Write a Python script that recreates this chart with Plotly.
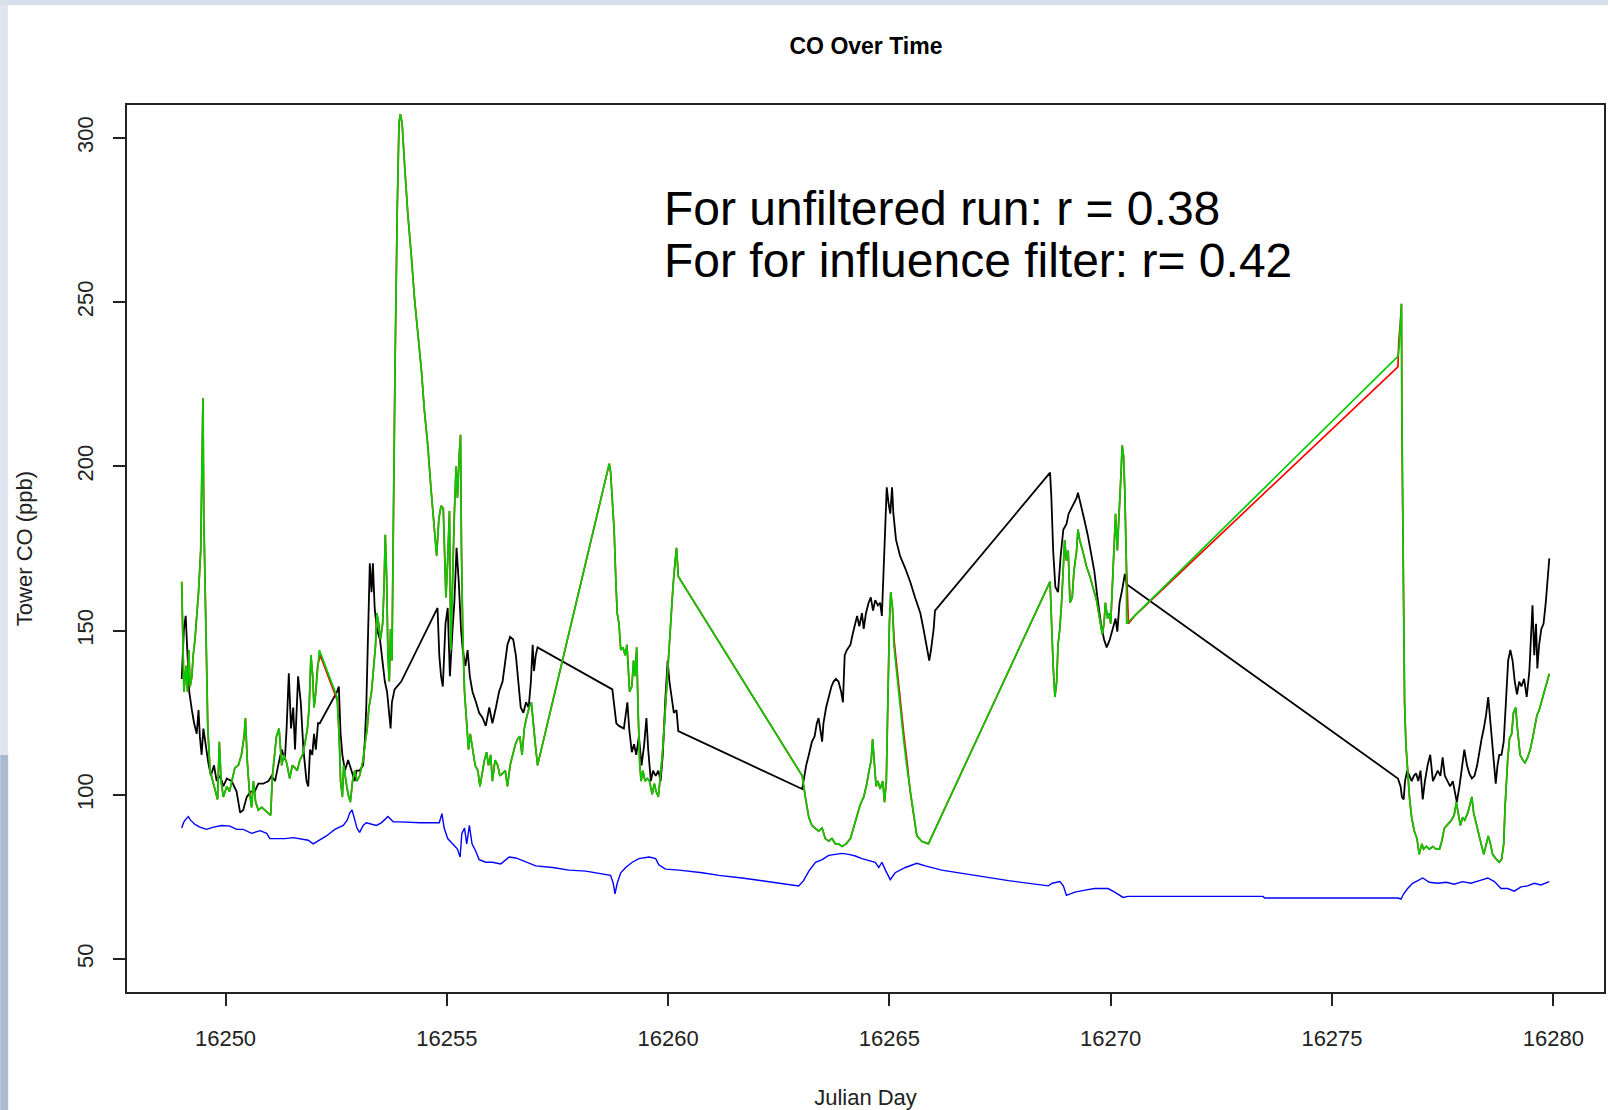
import plotly.graph_objects as go

# ---------------- data ----------------
black_day = [16249.01,16249.03,16249.06,16249.10,16249.12,16249.15,16249.18,16249.24,16249.29,16249.35,16249.39,16249.42,16249.46,16249.50,16249.55,16249.61,16249.67,16249.74,16249.80,16249.88,16249.95,16250.03,16250.14,16250.25,16250.33,16250.40,16250.48,16250.57,16250.66,16250.74,16250.85,16250.97,16251.04,16251.12,16251.19,16251.27,16251.34,16251.38,16251.43,16251.48,16251.53,16251.57,16251.64,16251.70,16251.76,16251.83,16251.87,16251.91,16251.96,16252.00,16252.04,16252.09,16252.13,
             16252.52,16252.56,16252.60,16252.64,16252.70,16252.77,16252.85,16252.92,16252.96,16253.03,16253.11,16253.15,16253.18,16253.22,16253.26,16253.30,16253.33,16253.37,16253.42,16253.49,16253.55,16253.60,16253.65,16253.70,16253.73,16253.76,16253.82,16253.97,
             16254.79,16254.83,16254.87,16254.91,16254.97,16255.02,16255.07,16255.13,16255.17,16255.22,16255.27,16255.32,16255.36,16255.42,16255.47,16255.52,16255.58,16255.66,16255.73,16255.81,16255.88,16255.96,16256.03,16256.11,16256.18,16256.26,16256.32,16256.37,16256.43,16256.50,16256.56,16256.62,16256.67,16256.73,16256.79,16256.85,16256.90,16256.94,16256.97,16257.01,16257.05,
             16258.74,16258.78,16258.83,16258.89,16259.00,16259.08,16259.12,16259.18,16259.23,16259.28,16259.34,16259.40,16259.46,16259.51,16259.55,16259.61,16259.66,16259.72,16259.78,16259.83,16259.88,16259.94,16259.99,16260.03,16260.08,16260.13,16260.19,16260.23,
             16263.03,16263.06,16263.12,16263.18,16263.25,16263.31,16263.36,16263.40,16263.44,16263.48,16263.51,16263.57,16263.63,16263.69,16263.74,16263.79,16263.85,16263.91,16263.95,16263.99,16264.04,16264.12,16264.17,16264.23,16264.27,16264.32,16264.38,16264.42,16264.47,16264.53,16264.58,16264.63,16264.68,16264.74,16264.79,16264.83,16264.87,16264.91,16264.94,16264.98,16265.02,16265.06,16265.09,16265.15,16265.24,16265.36,16265.47,16265.58,16265.70,16265.77,16265.85,16265.90,16265.94,16266.00,16266.03,
             16268.63,16268.66,16268.70,16268.75,16268.81,16268.87,16268.93,16269.00,16269.05,16269.11,16269.17,16269.23,16269.26,16269.32,16269.40,16269.48,16269.55,16269.63,16269.70,16269.78,16269.85,16269.91,16269.98,16270.05,16270.11,16270.15,16270.20,16270.26,16270.32,16270.36,
             16276.49,16276.55,16276.58,16276.62,16276.65,16276.70,16276.75,16276.80,16276.85,16276.90,16276.95,16277.00,16277.05,16277.10,16277.16,16277.22,16277.28,16277.33,16277.39,16277.45,16277.50,16277.55,16277.61,16277.67,16277.73,16277.78,16277.82,16277.88,16277.93,16277.99,16278.05,16278.10,16278.16,16278.22,16278.28,16278.33,16278.38,16278.43,16278.48,16278.53,16278.58,16278.63,16278.67,16278.70,16278.74,16278.78,16278.83,16278.88,16278.93,16278.98,16279.03,16279.08,16279.13,16279.18,16279.23,16279.28,16279.34,16279.40,16279.46,16279.49,16279.53,16279.57,16279.61,16279.64,16279.68,16279.73,16279.78,16279.83,16279.87,16279.91]
black_co = [135.3,140.9,150.5,154.5,148.9,140.9,131.4,125.8,121.8,118.6,125.8,117.8,112.2,120.2,115.4,109.8,105.8,109.0,104.2,105.8,102.6,105.0,104.2,101.0,94.6,95.4,99.4,101.0,101.0,103.4,103.4,104.2,105.8,104.2,109.0,113.8,110.6,120.2,137.0,120.2,126.6,113.8,136.1,128.2,113.8,104.2,102.6,113.8,112.2,118.6,113.8,121.8,121.8,
            131.4,133.0,118.6,112.2,107.4,110.6,107.4,104.2,107.4,107.4,109.0,117.0,126.6,148.9,170.5,161.7,170.5,156.9,150.5,147.3,140.9,134.5,131.4,125.0,120.2,128.2,132.1,134.5,
            156.9,142.5,136.1,133.0,152.1,156.9,136.1,150.5,158.5,175.2,164.9,150.5,144.1,139.3,144.1,136.1,131.4,128.2,125.0,123.4,121.0,126.6,121.8,126.6,131.4,134.5,140.9,145.7,148.1,147.3,142.5,134.5,126.6,125.0,128.2,126.6,134.5,145.7,137.7,142.5,144.9,
            132.1,128.2,121.8,121.0,120.2,128.2,120.2,113.0,115.4,112.2,117.8,109.0,115.4,123.4,113.8,104.2,107.4,105.8,107.4,104.2,112.2,129.8,140.9,134.5,129.8,125.0,125.8,119.4,
            101.8,104.2,109.0,112.2,116.2,117.8,121.8,123.4,120.2,116.2,121.8,126.6,129.8,133.0,134.5,135.3,134.5,131.4,128.2,142.5,144.1,145.7,148.9,152.1,154.5,151.3,155.3,150.5,155.3,158.5,160.1,156.1,159.3,157.7,158.5,154.5,168.1,184.0,193.6,188.8,185.6,193.6,185.6,177.6,172.8,168.9,164.9,160.1,155.3,150.5,144.1,140.9,144.1,150.5,156.1,
            198.1,190.4,174.4,163.3,161.7,172.8,180.8,182.4,185.6,187.2,188.8,190.4,192.0,188.8,184.0,179.2,174.4,168.1,160.1,152.1,147.3,144.9,147.3,150.5,153.7,149.7,158.5,162.5,167.3,164.1,
            105.0,102.6,99.4,98.6,104.2,107.4,105.8,104.2,105.8,106.6,104.2,107.4,98.6,104.2,109.0,112.2,104.2,105.8,107.4,105.8,111.4,105.8,104.2,102.6,104.2,101.0,97.8,102.6,107.4,113.8,109.0,106.6,105.0,105.8,109.0,113.8,117.0,120.2,124.2,129.8,121.8,115.4,109.0,103.4,109.0,112.2,112.2,116.2,128.2,140.9,144.1,140.9,134.5,130.6,134.5,133.0,135.3,129.8,137.7,147.3,157.7,142.5,152.1,138.5,145.7,150.5,152.1,158.5,166.5,172.0]

green_day = [16249.01,16249.03,16249.06,16249.11,16249.14,16249.17,16249.20,16249.24,16249.27,16249.31,16249.35,16249.39,16249.44,16249.46,16249.49,16249.51,16249.54,16249.57,16249.60,16249.65,16249.71,16249.76,16249.82,16249.86,16249.90,16249.95,16250.03,16250.09,16250.16,16250.21,16250.29,16250.36,16250.42,16250.45,16250.49,16250.54,16250.59,16250.63,16250.68,16250.74,16250.82,16250.89,16250.97,16251.02,16251.06,16251.10,16251.15,16251.21,16251.27,16251.32,16251.38,16251.45,16251.51,16251.57,16251.62,16251.68,16251.74,16251.79,16251.85,16251.89,16251.93,16251.97,16252.00,16252.04,16252.08,16252.12,
             16252.52,16252.57,16252.60,16252.64,16252.67,16252.72,16252.77,16252.82,16252.87,16252.92,16252.97,16253.03,16253.11,16253.15,16253.20,16253.24,16253.30,16253.35,16253.39,16253.42,16253.46,16253.50,16253.55,16253.58,16253.61,16253.64,16253.67,16253.70,16253.73,16253.76,16253.79,16253.83,16253.88,16253.92,16253.95,16253.99,16254.05,16254.12,16254.20,16254.27,16254.35,16254.43,16254.49,16254.57,16254.64,16254.72,16254.77,16254.82,16254.87,16254.92,16254.95,16254.98,16255.02,16255.06,16255.09,16255.13,16255.17,16255.21,16255.24,16255.28,16255.31,16255.33,16255.36,16255.40,16255.43,16255.49,16255.53,16255.58,16255.64,16255.70,16255.75,16255.79,16255.85,16255.90,16255.94,16255.99,16256.03,16256.09,16256.15,16256.20,16256.26,16256.32,16256.37,16256.43,16256.49,16256.55,16256.60,16256.65,16256.70,16256.75,16256.80,16256.86,16256.91,16256.95,16257.00,16257.05,
             16258.67,16258.70,16258.74,16258.78,16258.82,16258.85,16258.89,16258.93,16258.98,16259.03,16259.07,16259.10,16259.13,16259.18,16259.22,16259.25,16259.29,16259.32,16259.36,16259.39,16259.43,16259.48,16259.53,16259.58,16259.64,16259.69,16259.73,16259.78,16259.82,16259.87,16259.91,16259.96,16260.00,16260.06,16260.11,16260.16,16260.19,16260.23,
             16263.03,16263.10,16263.18,16263.25,16263.33,16263.40,16263.48,16263.55,16263.63,16263.70,16263.78,16263.85,16263.93,16264.02,16264.12,16264.19,16264.27,16264.34,16264.42,16264.49,16264.54,16264.59,16264.62,16264.66,16264.70,16264.74,16264.79,16264.85,16264.89,16264.93,16264.96,16265.00,16265.03,16265.07,16265.10,16265.17,16265.24,16265.32,16265.39,16265.47,16265.54,16265.62,16265.73,16265.88,
             16268.63,16268.66,16268.70,16268.74,16268.78,16268.81,16268.85,16268.89,16268.93,16268.96,16269.00,16269.04,16269.08,16269.13,16269.17,16269.23,16269.26,16269.30,16269.38,16269.45,16269.53,16269.60,16269.68,16269.75,16269.81,16269.85,16269.88,16269.93,16269.96,16270.00,16270.04,16270.08,16270.11,16270.15,16270.19,16270.23,16270.26,16270.29,16270.32,16270.35,16270.36,
             16276.49,16276.52,16276.55,16276.57,16276.58,16276.60,16276.62,16276.64,16276.67,16276.71,16276.75,16276.80,16276.86,16276.92,16276.97,16277.03,16277.07,16277.13,16277.20,16277.28,16277.35,16277.43,16277.48,16277.54,16277.60,16277.65,16277.70,16277.76,16277.81,16277.85,16277.90,16277.95,16278.00,16278.07,16278.13,16278.16,16278.20,16278.25,16278.31,16278.37,16278.43,16278.48,16278.53,16278.58,16278.63,16278.70,16278.78,16278.83,16278.88,16278.91,16278.94,16278.97,16279.01,16279.06,16279.10,16279.15,16279.19,16279.25,16279.31,16279.36,16279.42,16279.48,16279.53,16279.58,16279.63,16279.68,16279.73,16279.79,16279.85,16279.91]
green_co = [164.9,147.3,131.4,139.3,131.4,144.1,133.0,136.1,142.5,147.3,153.7,161.7,174.4,193.6,220.7,184.0,158.5,131.4,120.2,107.4,104.2,101.0,98.6,116.2,104.2,99.4,102.6,101.0,105.8,108.2,109.0,112.2,117.8,123.4,110.6,101.0,96.2,104.2,97.8,95.4,96.2,95.4,94.6,93.8,105.8,112.2,117.8,120.2,109.0,112.2,109.8,105.0,109.0,108.2,107.4,110.6,112.2,115.4,120.2,126.6,142.5,136.1,126.6,131.4,139.3,144.1,
            129.8,117.0,104.2,99.4,109.0,104.2,100.2,97.8,104.2,107.4,104.2,105.8,110.6,115.4,120.2,126.6,131.4,139.3,145.7,155.3,152.1,147.3,152.1,162.5,179.2,166.5,142.5,134.5,150.5,140.9,182.4,230.3,278.2,304.5,307.2,304.5,290.9,276.6,263.8,251.1,239.9,228.7,217.5,206.4,193.6,180.8,172.8,184.0,188.0,187.2,176.0,160.1,171.3,186.4,144.1,166.5,185.6,200.0,190.4,203.2,209.6,176.0,148.9,131.4,125.0,113.8,118.6,113.8,109.0,107.4,102.6,105.8,110.6,113.0,109.0,112.2,104.2,110.6,109.0,105.8,106.6,107.4,102.6,109.0,112.2,115.4,117.0,117.8,112.2,120.2,123.4,126.6,128.2,123.4,115.4,109.0,
            200.8,198.4,190.4,180.8,164.9,155.3,152.1,144.1,144.9,142.5,145.7,136.1,131.4,133.0,140.9,136.1,144.9,126.6,109.0,104.2,107.4,104.2,105.0,104.2,100.2,103.4,101.0,99.4,104.2,112.2,120.2,131.4,142.5,152.1,163.3,171.3,175.2,166.5,
            105.8,99.4,93.1,90.7,89.9,89.0,89.9,86.7,85.9,86.7,85.1,85.1,84.3,85.1,86.7,89.9,93.1,97.0,99.4,103.4,107.4,110.6,117.0,109.0,102.6,104.2,101.8,104.2,97.8,104.2,129.8,152.1,161.7,156.9,145.7,136.1,126.6,117.0,109.0,101.0,94.6,87.5,85.9,85.1,
            164.9,152.1,139.3,129.8,134.5,145.7,150.5,158.5,168.1,177.6,171.3,174.4,158.5,160.1,168.1,174.4,180.8,177.6,173.6,169.7,166.5,163.3,159.3,153.7,148.9,152.1,158.5,153.7,155.3,152.1,163.3,176.0,185.6,174.4,184.0,196.8,206.4,203.2,192.0,172.8,152.1,
            233.5,236.7,244.7,249.5,215.9,184.0,152.1,128.2,115.4,105.8,99.4,93.1,89.0,86.7,81.9,85.1,83.5,84.3,83.5,84.3,83.5,83.5,85.9,89.9,90.7,91.5,92.3,93.8,97.8,94.6,90.7,93.1,92.3,94.6,97.8,99.4,94.6,91.5,88.3,85.1,81.9,85.1,87.5,85.1,81.9,80.6,79.5,80.3,85.1,96.2,104.2,110.6,117.0,118.6,125.0,126.6,120.2,112.2,110.6,109.8,111.4,113.8,117.0,120.2,124.2,125.8,128.2,131.4,134.5,136.9]

red_day = [16249.01,16249.03,16249.06,16249.11,16249.14,16249.17,16249.20,16249.24,16249.27,16249.31,16249.35,16249.39,16249.44,16249.46,16249.49,16249.51,16249.54,16249.57,16249.60,16249.65,16249.71,16249.76,16249.82,16249.86,16249.90,16249.95,16250.03,16250.09,16250.16,16250.21,16250.29,16250.36,16250.42,16250.45,16250.49,16250.54,16250.59,16250.63,16250.68,16250.74,16250.82,16250.89,16250.97,16251.02,16251.06,16251.10,16251.15,16251.21,16251.27,16251.32,16251.38,16251.45,16251.51,16251.57,16251.62,16251.68,16251.74,16251.79,16251.85,16251.89,16251.93,16251.97,16252.00,16252.04,16252.08,16252.14,
           16252.53,16252.57,16252.60,16252.64,16252.67,16252.72,16252.77,16252.82,16252.87,16252.92,16252.97,16253.03,16253.11,16253.15,16253.20,16253.24,16253.30,16253.35,16253.39,16253.42,16253.46,16253.50,16253.55,16253.58,16253.61,16253.64,16253.67,16253.70,16253.73,16253.76,16253.79,16253.83,16253.88,16253.92,16253.95,16253.99,16254.05,16254.12,16254.20,16254.27,16254.35,16254.43,16254.49,16254.57,16254.64,16254.72,16254.77,16254.82,16254.87,16254.92,16254.95,16254.98,16255.02,16255.06,16255.09,16255.13,16255.17,16255.21,16255.24,16255.28,16255.31,16255.33,16255.36,16255.40,16255.43,16255.49,16255.53,16255.58,16255.64,16255.70,16255.75,16255.79,16255.85,16255.90,16255.94,16255.99,16256.03,16256.09,16256.15,16256.20,16256.26,16256.32,16256.37,16256.43,16256.49,16256.55,16256.60,16256.65,16256.70,16256.75,16256.80,16256.86,16256.91,16256.95,16257.00,16257.05,
           16258.67,16258.70,16258.74,16258.78,16258.82,16258.85,16258.89,16258.93,16258.98,16259.03,16259.07,16259.10,16259.13,16259.18,16259.22,16259.25,16259.29,16259.32,16259.36,16259.39,16259.43,16259.48,16259.53,16259.58,16259.64,16259.69,16259.73,16259.78,16259.82,16259.87,16259.91,16259.96,16260.00,16260.06,16260.11,16260.16,16260.19,16260.23,
           16263.03,16263.10,16263.18,16263.25,16263.33,16263.40,16263.48,16263.55,16263.63,16263.70,16263.78,16263.85,16263.93,16264.02,16264.12,16264.19,16264.27,16264.34,16264.42,16264.49,16264.54,16264.59,16264.62,16264.66,16264.70,16264.74,16264.79,16264.85,16264.89,16264.93,16264.96,16265.00,16265.03,16265.07,16265.11,16265.18,16265.25,16265.33,16265.40,16265.47,16265.54,16265.62,16265.73,16265.88,
           16268.63,16268.66,16268.70,16268.74,16268.78,16268.81,16268.85,16268.89,16268.93,16268.96,16269.00,16269.04,16269.08,16269.13,16269.17,16269.23,16269.26,16269.30,16269.38,16269.45,16269.53,16269.60,16269.68,16269.75,16269.81,16269.85,16269.88,16269.93,16269.96,16270.00,16270.04,16270.08,16270.11,16270.15,16270.19,16270.23,16270.26,16270.29,16270.32,16270.35,16270.40,16270.54,
           16276.49,16276.51,16276.55,16276.57,16276.58,16276.60,16276.62,16276.64,16276.67,16276.71,16276.75,16276.80,16276.86,16276.92,16276.97,16277.03,16277.07,16277.13,16277.20,16277.28,16277.35,16277.43,16277.48,16277.54,16277.60,16277.65,16277.70,16277.76,16277.81,16277.85,16277.90,16277.95,16278.00,16278.07,16278.13,16278.16,16278.20,16278.25,16278.31,16278.37,16278.43,16278.48,16278.53,16278.58,16278.63,16278.70,16278.78,16278.83,16278.88,16278.91,16278.94,16278.97,16279.01,16279.06,16279.10,16279.15,16279.19,16279.25,16279.31,16279.36,16279.42,16279.48,16279.53,16279.58,16279.63,16279.68,16279.73,16279.79,16279.85,16279.91]
red_co = [164.9,147.3,131.4,139.3,131.4,144.1,133.0,136.1,142.5,147.3,153.7,161.7,174.4,193.6,220.7,184.0,158.5,131.4,120.2,107.4,104.2,101.0,98.6,116.2,104.2,99.4,102.6,101.0,105.8,108.2,109.0,112.2,117.8,123.4,110.6,101.0,96.2,104.2,97.8,95.4,96.2,95.4,94.6,93.8,105.8,112.2,117.8,120.2,109.0,112.2,109.8,105.0,109.0,108.2,107.4,110.6,112.2,115.4,120.2,126.6,142.5,136.1,126.6,131.4,139.3,142.5,
          128.6,117.0,104.2,99.4,109.0,104.2,100.2,97.8,104.2,107.4,104.2,105.8,110.6,115.4,120.2,126.6,131.4,139.3,145.7,155.3,152.1,147.3,152.1,162.5,179.2,166.5,142.5,134.5,150.5,140.9,182.4,230.3,278.2,304.5,307.2,304.5,290.9,276.6,263.8,251.1,239.9,228.7,217.5,206.4,193.6,180.8,172.8,184.0,188.0,187.2,176.0,160.1,171.3,186.4,144.1,166.5,185.6,200.0,190.4,203.2,209.6,176.0,148.9,131.4,125.0,113.8,118.6,113.8,109.0,107.4,102.6,105.8,110.6,113.0,109.0,112.2,104.2,110.6,109.0,105.8,106.6,107.4,102.6,109.0,112.2,115.4,117.0,117.8,112.2,120.2,123.4,126.6,128.2,123.4,115.4,109.0,
          200.8,198.4,190.4,180.8,164.9,155.3,152.1,144.1,144.9,142.5,145.7,136.1,131.4,133.0,140.9,136.1,144.9,126.6,109.0,104.2,107.4,104.2,105.0,104.2,100.2,103.4,101.0,99.4,104.2,112.2,120.2,131.4,142.5,152.1,163.3,171.3,175.2,166.5,
          105.8,99.4,93.1,90.7,89.9,89.0,89.9,86.7,85.9,86.7,85.1,85.1,84.3,85.1,86.7,89.9,93.1,97.0,99.4,103.4,107.4,110.6,117.0,109.0,102.6,104.2,101.8,104.2,97.8,104.2,129.8,152.1,161.7,156.9,146.5,137.0,127.5,118.0,110.0,101.0,94.6,87.5,85.9,85.1,
          164.9,152.1,139.3,129.8,134.5,145.7,150.5,158.5,168.1,177.6,171.3,174.4,158.5,160.1,168.1,174.4,180.8,177.6,173.6,169.7,166.5,163.3,159.3,153.7,148.9,152.1,158.5,153.7,155.3,152.1,163.3,176.0,185.6,174.4,184.0,196.8,206.4,203.2,192.0,172.8,152.1,154.5,
          230.3,238.3,244.7,249.5,211.0,184.0,152.1,128.2,115.4,105.8,99.4,93.1,89.0,86.7,81.9,85.1,83.5,84.3,83.5,84.3,83.5,83.5,85.9,89.9,90.7,91.5,92.3,93.8,97.8,94.6,90.7,93.1,92.3,94.6,97.8,99.4,94.6,91.5,88.3,85.1,81.9,85.1,87.5,85.1,81.9,80.6,79.5,80.3,85.1,96.2,104.2,110.6,117.0,118.6,125.0,126.6,120.2,112.2,110.6,109.8,111.4,113.8,117.0,120.2,124.2,125.8,128.2,131.4,134.5,136.9]

blue_day = [16249.01,16249.06,16249.11,16249.16,16249.21,16249.31,16249.42,16249.57,16249.73,16249.91,16250.10,16250.25,16250.40,16250.59,16250.78,16250.93,16251.00,16251.15,16251.34,16251.53,16251.68,16251.87,16251.98,16252.09,16252.28,16252.47,16252.66,16252.75,16252.81,16252.86,16252.92,16252.97,16253.03,16253.11,16253.18,16253.30,16253.41,16253.52,16253.67,16253.79,16253.94,16254.39,
            16254.83,16254.89,16254.94,16255.02,16255.13,16255.24,16255.30,16255.34,16255.40,16255.45,16255.51,16255.57,16255.66,16255.73,16255.88,16256.03,16256.22,16256.41,16256.56,16256.79,16257.01,16257.39,16257.76,16258.14,16258.52,16258.70,16258.76,16258.80,16258.85,16258.93,16259.04,16259.19,16259.34,16259.57,16259.72,16259.79,16259.94,16260.25,16260.77,16261.15,
            16261.67,16262.42,16262.95,16263.06,16263.18,16263.33,16263.48,16263.63,16263.78,16263.93,16264.08,16264.23,16264.38,16264.53,16264.68,16264.76,16264.83,16264.91,16265.02,16265.13,16265.36,16265.62,16265.81,16266.18,16266.94,16267.69,
            16268.59,16268.68,16268.85,16268.93,16269.00,16269.19,16269.42,16269.64,16269.79,16269.94,16270.09,16270.28,16270.39,16271.97,16273.44,16273.48,16274.23,
            16276.49,16276.56,16276.62,16276.71,16276.82,16276.94,16277.05,16277.20,16277.39,16277.58,16277.76,16277.95,16278.14,16278.33,16278.52,16278.67,16278.82,16278.97,16279.12,16279.27,16279.42,16279.57,16279.72,16279.91]
blue_co = [89.9,91.8,92.7,93.4,92.3,91.0,90.2,89.5,90.2,90.7,90.5,89.5,89.5,88.3,89.1,88.3,86.7,86.7,86.7,87.0,86.7,86.2,85.1,85.9,87.5,89.5,90.7,92.3,94.6,95.4,92.3,89.9,88.6,90.7,91.5,91.0,90.7,91.5,93.4,91.8,91.8,91.5,
           91.5,94.3,89.9,86.7,85.1,83.5,81.1,88.3,89.9,85.1,90.7,85.1,82.7,80.3,79.5,79.5,79.0,81.1,80.8,79.5,78.4,77.9,77.1,76.8,75.8,75.5,73.1,69.9,73.1,76.3,77.9,79.5,80.6,81.1,80.6,78.7,77.4,77.1,76.3,75.5,
           74.7,73.4,72.3,73.9,76.8,79.5,80.3,81.6,81.9,82.2,81.9,81.4,80.6,80.0,79.5,77.9,79.5,77.1,74.2,76.3,77.9,79.2,78.4,77.1,75.5,73.9,
           72.3,73.1,73.6,72.3,69.4,70.4,71.0,71.5,71.5,71.5,70.4,68.8,69.1,69.1,69.1,68.6,68.6,
           68.6,68.3,69.9,71.5,73.1,73.9,74.7,73.4,73.1,73.4,72.8,73.6,73.1,73.9,74.7,73.6,71.5,71.5,70.7,72.0,72.3,73.1,72.6,73.6]

x_ticks = [16250, 16255, 16260, 16265, 16270, 16275, 16280]
y_ticks = [50, 100, 150, 200, 250, 300]
title_text = "CO Over Time"
x_title = "Julian Day"
y_title = "Tower CO (ppb)"
note_lines = ["For unfiltered run: r = 0.38", "For for influence filter: r= 0.42"]

# ---------------- figure ----------------
W, H = 1610, 1110
ML, MR, MT, MB = 127, 4, 105, 118
FONT = "Liberation Sans, Arial, Helvetica, sans-serif"

fig = go.Figure()
fig.add_trace(go.Scatter(x=black_day, y=black_co, mode="lines", name="observed",
                         line=dict(color="#000000", width=1.8)))
fig.add_trace(go.Scatter(x=red_day, y=red_co, mode="lines", name="unfiltered",
                         line=dict(color="#FF0000", width=1.7)))
fig.add_trace(go.Scatter(x=green_day, y=green_co, mode="lines", name="influence filter",
                         line=dict(color="#00CD00", width=1.7)))
fig.add_trace(go.Scatter(x=blue_day, y=blue_co, mode="lines", name="background",
                         line=dict(color="#0000FF", width=1.4)))

pw = W - ML - MR
ph = H - MT - MB
def px_x(p):
    return (p - ML) / pw
def px_y(p):
    return (H - MB - p) / ph

shapes = [
    dict(type="rect", xref="paper", yref="paper", x0=px_x(0), x1=px_x(8), y0=px_y(755), y1=px_y(0),
         fillcolor="#dde6ef", line=dict(width=0), layer="below"),
    dict(type="rect", xref="paper", yref="paper", x0=px_x(0), x1=px_x(8), y0=px_y(H), y1=px_y(755),
         fillcolor="#a9bccf", line=dict(width=0), layer="below"),
    dict(type="rect", xref="paper", yref="paper", x0=px_x(0), x1=px_x(W), y0=px_y(5), y1=px_y(0),
         fillcolor="#d6e0ec", line=dict(width=0), layer="below"),
]

annotations = [
    dict(text=note_lines[0], xref="paper", yref="paper", x=px_x(663), y=px_y(208),
         xanchor="left", yanchor="middle", showarrow=False,
         font=dict(family=FONT, size=48, color="#000000")),
    dict(text=note_lines[1], xref="paper", yref="paper", x=px_x(663), y=px_y(261),
         xanchor="left", yanchor="middle", showarrow=False,
         font=dict(family=FONT, size=48, color="#000000")),
]

fig.update_layout(
    width=W, height=H,
    margin=dict(l=ML, r=MR, t=MT, b=MB, pad=0),
    paper_bgcolor="#ffffff", plot_bgcolor="#ffffff",
    showlegend=False,
    title=dict(text="<b>" + title_text + "</b>", xref="container", x=866 / W, xanchor="center",
               y=1 - 46 / H, yref="container", yanchor="middle",
               font=dict(family=FONT, size=23, color="#000000")),
    shapes=shapes,
    annotations=annotations,
    font=dict(family=FONT, size=22, color="#000000"),
)
fig.update_xaxes(range=[16247.774, 16281.146], tickvals=x_ticks, ticktext=[str(v) for v in x_ticks],
                 showgrid=False, zeroline=False, showline=True, mirror=True,
                 linecolor="#222222", linewidth=2, ticks="outside", ticklen=12, tickwidth=2,
                 tickcolor="#222222", tickfont=dict(family=FONT, size=22, color="#222222"),
                 ticklabelstandoff=14,
                 title=dict(text=x_title, standoff=39, font=dict(family=FONT, size=22, color="#222222")))
fig.update_yaxes(range=[40, 310], tickvals=y_ticks, ticktext=[str(v) for v in y_ticks],
                 showgrid=False, zeroline=False, showline=True, mirror=True,
                 linecolor="#222222", linewidth=2, ticks="outside", ticklen=12, tickwidth=2,
                 tickcolor="#222222", tickangle=-90, tickfont=dict(family=FONT, size=22, color="#222222"),
                 ticklabelstandoff=11,
                 title=dict(text=y_title, standoff=35, font=dict(family=FONT, size=22, color="#222222")))

fig.write_html("out.html", config={"displayModeBar": False},
               post_script="document.body.style.margin='0';document.body.style.overflow='hidden';")
